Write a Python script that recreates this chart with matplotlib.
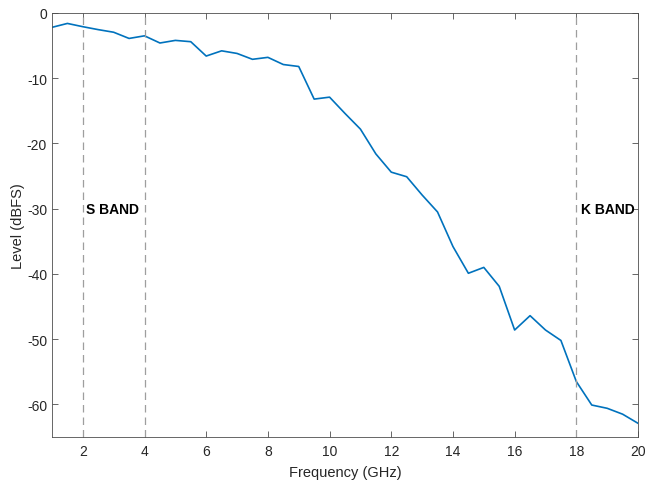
import matplotlib
matplotlib.use("Agg")
import matplotlib.pyplot as plt

plt.rcParams['font.family'] = ['Liberation Sans', 'DejaVu Sans']
plt.rcParams['axes.unicode_minus'] = False

freq = [1, 1.5, 2, 2.5, 3, 3.5, 4, 4.5, 5, 5.5, 6, 6.5, 7, 7.5, 8, 8.5, 9, 9.5, 10,
        10.5, 11, 11.5, 12, 12.5, 13, 13.5, 14, 14.5, 15, 15.5, 16, 16.5, 17, 17.5,
        18, 18.5, 19, 19.5, 20]
level = [-2.2, -1.6, -2.1, -2.55, -2.95, -3.9, -3.5, -4.6, -4.2, -4.4, -6.6, -5.8,
         -6.2, -7.1, -6.8, -7.9, -8.2, -13.2, -12.9, -15.4, -17.8, -21.6, -24.4,
         -25.1, -27.9, -30.5, -35.8, -39.9, -39.0, -41.9, -48.6, -46.4, -48.6,
         -50.2, -56.5, -60.1, -60.6, -61.5, -62.9]
band_lines = [2, 4, 18]
band_labels = ["S BAND", "K BAND"]
band_label_x = [2.1, 18.15]
band_label_y = [-30, -30]
xticks = [2, 4, 6, 8, 10, 12, 14, 16, 18, 20]
yticks = [0, -10, -20, -30, -40, -50, -60]

fig = plt.figure(figsize=(6.48, 4.81), dpi=100)
ax = fig.add_axes([0.0802, 0.0894, 0.9044, 0.8815])
ax.plot(freq, level, color=(0, 0.447, 0.741), linewidth=1.2)
for x in band_lines:
    ax.axvline(x, color=(0.62, 0.62, 0.62), linestyle=(0, (6, 4)), linewidth=0.9)
for lab, x, y in zip(band_labels, band_label_x, band_label_y):
    ax.text(x, y, lab, fontsize=10, fontweight='bold', ha='left', va='center', color='black')

ax.set_xlim(1, 20)
ax.set_ylim(-65, 0)
ax.set_xticks(xticks)
ax.set_yticks(yticks)
ax.tick_params(direction='in', top=True, right=True, length=4, width=0.6,
               colors=(0.3, 0.3, 0.3), labelsize=10, labelcolor=(0.15, 0.15, 0.15))
ax.tick_params(axis='x', pad=5)
ax.tick_params(axis='y', pad=3.5)
for s in ax.spines.values():
    s.set_color((0.3, 0.3, 0.3))
    s.set_linewidth(0.6)
ax.set_xlabel("Frequency (GHz)", fontsize=10.5, color=(0.15, 0.15, 0.15), labelpad=5)
ax.set_ylabel("Level (dBFS)", fontsize=10.5, color=(0.15, 0.15, 0.15), labelpad=1)
fig.savefig("out.png", dpi=100)
